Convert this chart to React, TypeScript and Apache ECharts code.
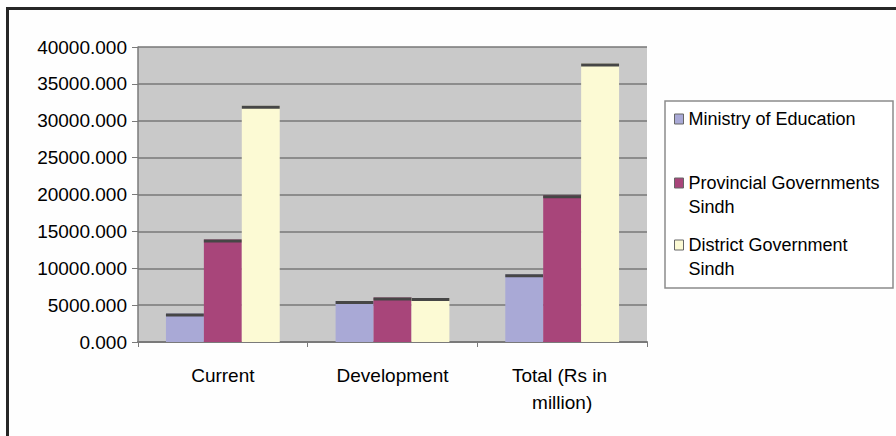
import React, { useEffect, useRef } from "react";
import * as echarts from "echarts";

// Expenditure groups along the x axis
const categories = ["Current", "Development", "Total (Rs in million)"];

// Funding sources
const seriesNames = [
  "Ministry of Education",
  "Provincial Governments Sindh",
  "District Government Sindh",
];

// Values per funding source (Rs in million)
const ministryOfEducation = [3850, 5560, 9200];
const provincialSindh = [13890, 6020, 19890];
const districtSindh = [32050, 5970, 37750];

// Value axis range
const yMin = 0;
const yMax = 40000;
const yStep = 5000;

const FONT = "'Liberation Sans', Arial, Helvetica, sans-serif";
const COLORS = ["#A9A9D6", "#A8457A", "#FCFAD4"];
const CAP = "#464646";
const BAR_RATIO = 38 / 170;

const allValues = [ministryOfEducation, provincialSindh, districtSindh];

function makeRenderItem(idx: number, color: string) {
  return (params: any, api: any) => {
    const cat = api.value(0);
    const v = api.value(1);
    const top = api.coord([cat, v]);
    const base = api.coord([cat, 0]);
    const band = api.size([1, 0])[0];
    const w = band * BAR_RATIO;
    const x = top[0] - (w * 3) / 2 + idx * w;
    const h = base[1] - top[1];
    return {
      type: "group",
      children: [
        { type: "rect", shape: { x, y: top[1], width: w, height: h }, style: { fill: color } },
        { type: "rect", shape: { x, y: top[1], width: w, height: Math.min(3, h) }, style: { fill: CAP } },
      ],
    };
  };
}

// Two-line legend entries: a leading empty line keeps the first text line level with the swatch
function legendLabel(name: string) {
  return "\n" + name.replace(/ Sindh$/, "\nSindh");
}

export default function App() {
  const ref = useRef<HTMLDivElement>(null);

  useEffect(() => {
    if (!ref.current) return;
    const chart = echarts.init(ref.current, undefined, { renderer: "svg" });

    const legendTops = [107, 147, 209];

    chart.setOption({
      animation: false,
      backgroundColor: "#fefefe",
      grid: {
        left: 138,
        top: 47,
        right: 249,
        bottom: 94,
        show: true,
        backgroundColor: "#c9c9c9",
        borderWidth: 0,
      },
      xAxis: {
        type: "category",
        data: categories,
        boundaryGap: true,
        axisLine: { show: true, lineStyle: { color: "#7a7a7a", width: 2 } },
        axisTick: { show: true, length: 5, alignWithLabel: false, lineStyle: { color: "#7a7a7a" } },
        axisLabel: {
          interval: 0,
          margin: 20,
          fontFamily: FONT,
          fontSize: 19,
          color: "#000",
          lineHeight: 27,
          width: 120,
          overflow: "break",
        },
      },
      yAxis: {
        type: "value",
        min: yMin,
        max: yMax,
        interval: yStep,
        axisLine: { show: true, lineStyle: { color: "#7a7a7a", width: 1.5 } },
        axisTick: { show: true, length: 6, lineStyle: { color: "#7a7a7a" } },
        splitLine: { show: true, lineStyle: { color: "#777", width: 1.5 } },
        axisLabel: {
          margin: 11,
          fontFamily: FONT,
          fontSize: 19,
          color: "#000",
          formatter: (v: number) => v.toFixed(3),
        },
      },
      legend: seriesNames.map((name, i) => ({
        data: [name],
        orient: "vertical",
        left: 674,
        top: legendTops[i],
        padding: 0,
        itemWidth: 9,
        itemHeight: 10,
        icon: "rect",
        selectedMode: false,
        itemStyle: { borderColor: "#666", borderWidth: 1 },
        textStyle: {
          fontFamily: FONT,
          fontSize: 18,
          color: "#000",
          lineHeight: 24,
        },
        formatter: i === 0 ? "{name}" : legendLabel,
      })),
      graphic: [
        {
          type: "rect",
          z: 1,
          shape: { x: 665, y: 101, width: 228, height: 187 },
          style: { fill: "#ffffff", stroke: "#8c8c8c", lineWidth: 1.5 },
        },
        {
          type: "line",
          z: 10,
          shape: { x1: 6, y1: 8.5, x2: 896, y2: 8.5 },
          style: { stroke: "#262626", lineWidth: 3 },
        },
        {
          type: "line",
          z: 10,
          shape: { x1: 7.5, y1: 7, x2: 7.5, y2: 436 },
          style: { stroke: "#262626", lineWidth: 3 },
        },
      ],
      series: seriesNames.map((name, i) => ({
        name,
        type: "custom",
        coordinateSystem: "cartesian2d",
        itemStyle: { color: COLORS[i] },
        encode: { x: 0, y: 1 },
        data: allValues[i].map((v, ci) => [ci, v]),
        renderItem: makeRenderItem(i, COLORS[i]),
      })),
    });

    return () => chart.dispose();
  }, []);

  return (
    <div
      ref={ref}
      style={{ position: "fixed", left: 0, top: 0, width: 896, height: 436 }}
    />
  );
}
